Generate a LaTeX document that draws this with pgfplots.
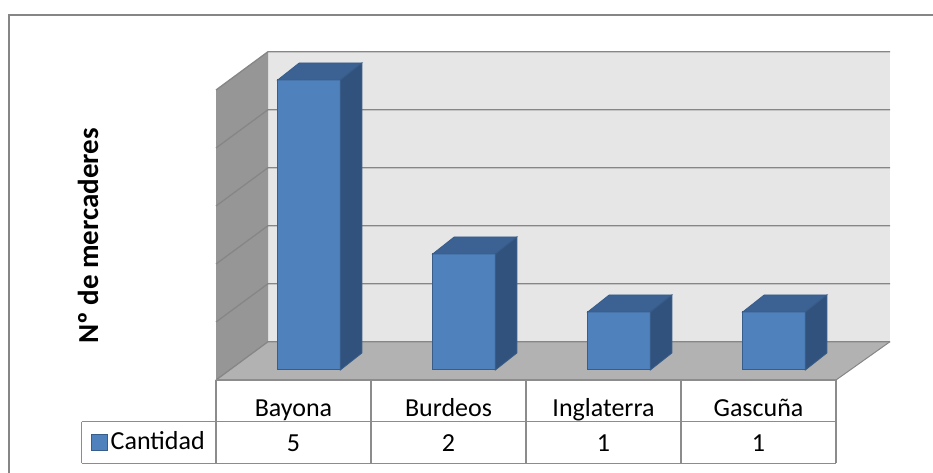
\documentclass[border=0pt]{standalone}
\usepackage{fontspec}
\setmainfont{Carlito}
\usepackage{pgfplots}
\usepackage{pgfplotstable}
\pgfplotsset{compat=1.18}

\definecolor{barfront}{HTML}{4F81BD}
\definecolor{bartop}{HTML}{3C6293}
\definecolor{barside}{HTML}{31527C}
\definecolor{baredge}{HTML}{385D8A}
\definecolor{wallback}{HTML}{E6E6E6}
\definecolor{wallside}{HTML}{969696}
\definecolor{floorgray}{HTML}{B2B2B2}
\definecolor{gridgray}{HTML}{868686}
\definecolor{tablegray}{HTML}{8C8C8C}

\pgfplotstableread[col sep=comma]{
idx,lugar,cantidad
0,Bayona,5
1,Burdeos,2
2,Inglaterra,1
3,Gascuña,1
}\mercaderes

\begin{document}
\fontsize{26bp}{30bp}\selectfont
\begin{tikzpicture}
\useasboundingbox (0,0) rectangle (933bp,473bp);
\clip (0,0) rectangle (933bp,473bp);

% walls, floor and data table frame (picture coordinates, y downwards)
\begin{scope}[x=1bp,y=-1bp,yshift=473bp]
  \draw[gridgray, line width=1.5bp] (9,480) -- (9,15) -- (940,15);
  \fill[wallback] (268,51.7) rectangle (890,341.7);
  \fill[wallside] (216,90) -- (268,51.7) -- (268,341.7) -- (216,380) -- cycle;
  \fill[floorgray] (216,380) -- (268,341.7) -- (890,341.7) -- (836,380) -- cycle;
  \foreach \k in {0,...,5}
    \draw[gridgray, line width=1.3bp] (216,380-58*\k) -- (268,341.7-58*\k) -- (890,341.7-58*\k);
  \draw[gridgray, line width=1bp] (890,341.7) -- (836,380);
  % table
  \foreach \xx in {216,371,526,681,836}
    \draw[tablegray, line width=1.3bp] (\xx,380) -- (\xx,463.3);
  \draw[tablegray, line width=1.3bp] (216,380) -- (836,380);
  \draw[tablegray, line width=1.3bp] (81.7,421.7) -- (836,421.7);
  \draw[tablegray, line width=1.3bp] (81.7,463.3) -- (836,463.3);
  \draw[tablegray, line width=1.3bp] (81.7,421.7) -- (81.7,463.3);
  \node[rotate=90, font=\fontsize{29bp}{34bp}\selectfont\bfseries] at (88,236) {Nº de mercaderes};
\end{scope}

\begin{axis}[
    at={(231.5bp,103bp)}, anchor=south west,
    scale only axis, width=620bp, height=290bp,
    xmin=-0.5, xmax=3.5, ymin=0, ymax=5,
    clip=false,
    axis line style={draw=none},
    ytick=\empty,
    xtick={0,1,2,3},
    xticklabels from table={\mercaderes}{lugar},
    major tick length=0pt,
    xticklabel style={anchor=base, xshift=-15.5bp, yshift=-46.5bp},
    /pgf/number format/assume math mode=true,
    legend style={at={(rel axis cs:-0.2271,-0.2507)}, anchor=west,
      draw=none, fill=none, inner sep=0pt, outer sep=0pt,
      nodes={inner sep=3bp}},
  ]
  % front faces
  \addplot[ybar, bar width=62.7bp, bar shift=0pt, fill=barfront, draw=baredge, line width=1bp,
    legend image code/.code={\draw[fill=barfront, draw=baredge, line width=1bp] (0bp,-8bp) rectangle (16bp,8bp);}]
    table[x=idx, y=cantidad]{\mercaderes};
  \addlegendentry{Cantidad}
  % top and side faces
  \addplot[forget plot, only marks, scatter, mark=*, mark size=0pt,
    mark options={draw=none, fill=none},
    visualization depends on={rawy \as \h},
    scatter/@pre marker code/.code={%
      \filldraw[fill=bartop, draw=baredge, line width=0.8bp]
        (-31.35bp,0bp) -- (31.35bp,0bp) -- (52.85bp,17bp) -- (-9.85bp,17bp) -- cycle;
      \filldraw[fill=barside, draw=baredge, line width=0.8bp]
        (31.35bp,0bp) -- (52.85bp,17bp) -- ++(axis direction cs:0,-\h) -- ++(-21.5bp,-17bp) -- cycle;
    },
    scatter/@post marker code/.code={}]
    table[x=idx, y=cantidad]{\mercaderes};
  % values row of the data table
  \addplot[forget plot, draw=none, mark=none, nodes near coords, point meta=explicit,
    nodes near coords style={anchor=base, xshift=-15.5bp}]
    table[x=idx, y expr=-1.411, meta=cantidad]{\mercaderes};
\end{axis}
\end{tikzpicture}
\end{document}
